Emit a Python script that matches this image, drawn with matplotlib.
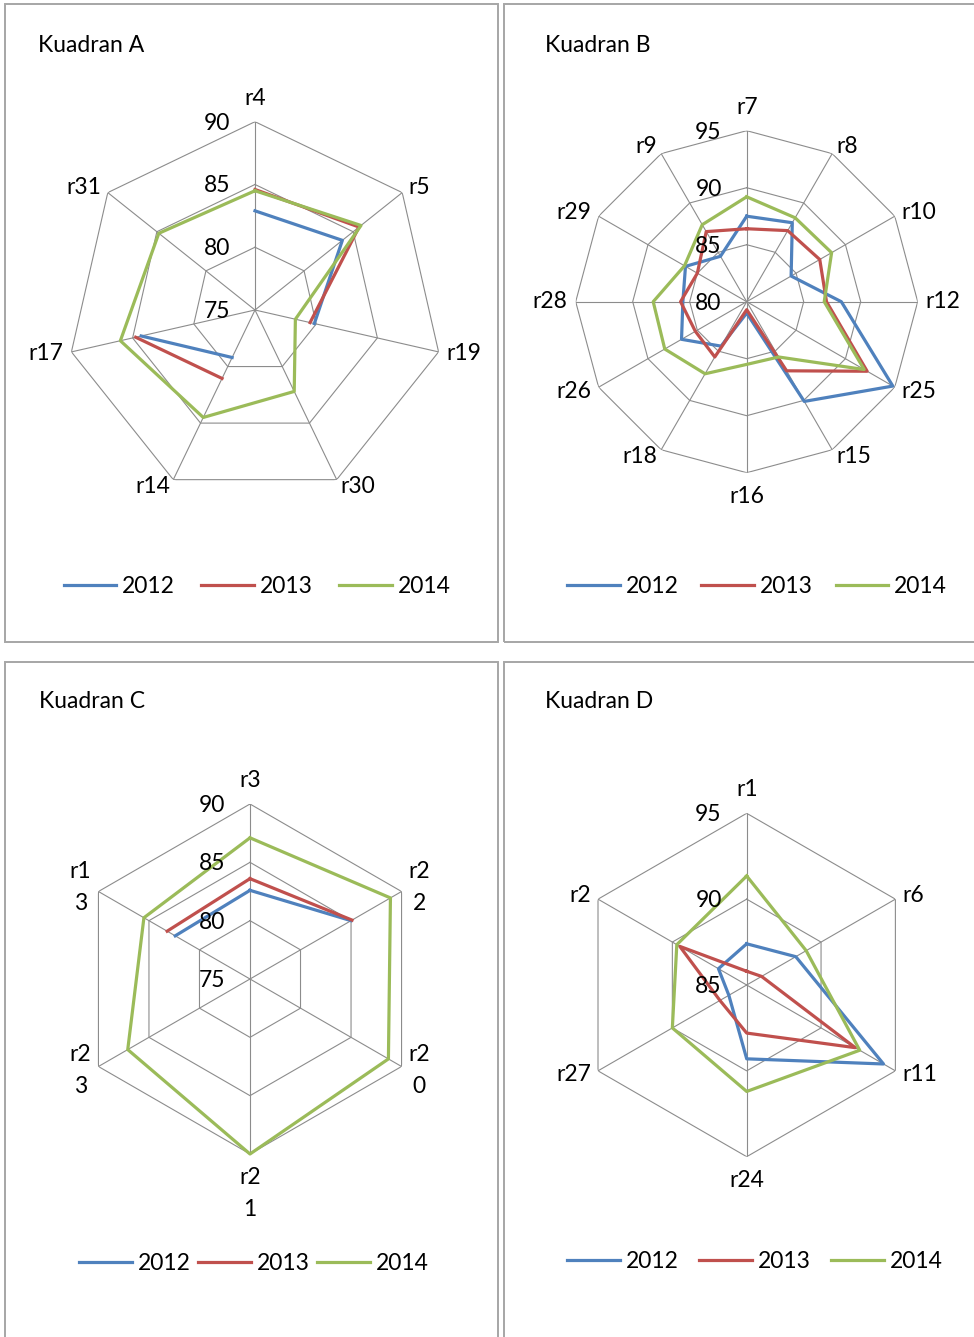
import numpy as np
import matplotlib
matplotlib.use('Agg')
import matplotlib.pyplot as plt
from matplotlib.patches import Rectangle

plt.rcParams['font.family'] = ['Lato', 'DejaVu Sans']
plt.rcParams['font.size'] = 16.5

# Kuadran A
catsA = ['r4', 'r5', 'r19', 'r30', 'r14', 'r17', 'r31']
a2012 = [82.9, 83.9, 79.85, np.nan, 79.2, 84.3, np.nan]
a2013 = [84.6, 85.6, 79.5, np.nan, 81.05, 84.75, np.nan]
a2014 = [84.5, 85.8, 78.3, 82.2, 84.5, 86.0, 84.8]
ticksA = [75, 80, 85, 90]

# Kuadran B
catsB = ['r7', 'r8', 'r10', 'r12', 'r25', 'r15', 'r16', 'r18', 'r26', 'r28', 'r29', 'r9']
b2012 = [87.5, 88.0, 84.5, 88.3, 94.8, 90.1, 81.0, 84.5, 86.6, 85.6, 86.2, 84.6]
b2013 = [86.4, 87.2, 87.4, 87.0, 92.2, 87.0, 80.7, 85.6, 85.2, 85.8, 85.0, 87.1]
b2014 = [89.2, 88.5, 88.6, 86.8, 91.9, 85.6, 85.5, 87.3, 88.3, 88.2, 86.3, 87.8]
ticksB = [80, 85, 90, 95]

# Kuadran C
catsC = ['r3', 'r22', 'r20', 'r21', 'r23', 'r13']
c2012 = [82.6, 85.0, np.nan, np.nan, np.nan, 82.4]
c2013 = [83.6, 85.1, np.nan, np.nan, np.nan, 83.2]
c2014 = [87.1, 88.9, 88.7, 90.0, 87.1, 85.5]
ticksC = [75, 80, 85, 90]

# Kuadran D
catsD = ['r1', 'r6', 'r11', 'r24', 'r27', 'r2']
d2012 = [87.4, 88.3, 94.2, 89.3, 86.2, 86.9]
d2013 = [85.8, 86.0, 92.3, 87.8, 86.8, 89.5]
d2014 = [91.35, 89.0, 92.6, 91.2, 90.0, 89.7]
ticksD = [85, 90, 95]

years = ['2012', '2013', '2014']
colors = ['#4F81BD', '#C0504D', '#9BBB59']
gridc = '#8c8c8c'

W, H = 974, 1337
fig = plt.figure(figsize=(W / 100, H / 100), dpi=100)


def radar(title, cats, series, ticks, centre, radius, title_xy, legend_xy,
          colspace, wrap=False):
    cx, cy = centre
    ax = fig.add_axes([(cx - radius) / W, (H - cy - radius) / H,
                       2 * radius / W, 2 * radius / H], projection='polar')
    ax.set_theta_zero_location('N')
    ax.set_theta_direction(-1)
    ax.set_ylim(ticks[0], ticks[-1])
    ax.set_xticks([])
    ax.set_yticks([])
    ax.grid(False)
    ax.spines['polar'].set_visible(False)
    ax.patch.set_visible(False)

    n = len(cats)
    ang = np.arange(n) * 2 * np.pi / n
    ang_c = np.append(ang, ang[0])

    # polygon rings and spokes
    for v in ticks[1:]:
        ax.plot(ang_c, [v] * (n + 1), color=gridc, lw=0.8, zorder=1)
    for a in ang:
        ax.plot([a, a], [ticks[0], ticks[-1]], color=gridc, lw=0.8, zorder=1)

    lines = []
    for vals, col, yr in zip(series, colors, years):
        v = np.append(vals, vals[0])
        ln, = ax.plot(ang_c, v, color=col, lw=2.3, label=yr, zorder=3,
                      clip_on=False)
        lines.append(ln)

    # category labels just outside the outer ring
    for a, lab in zip(ang, cats):
        s, c = np.sin(a), np.cos(a)
        if wrap and len(lab) > 2:
            lab = lab[:2] + '\n' + lab[2:]
        if abs(s) < 0.05:
            d = 9.5
            ha = 'center'
            va = 'bottom' if c > 0 else 'top'
        else:
            d = 5.8
            ha = 'left' if s > 0 else 'right'
            va = 'center'
        ax.annotate(lab, xy=(a, ticks[-1]), xytext=(d * s, d * c),
                    textcoords='offset points', ha=ha, va=va,
                    multialignment='center', linespacing=1.65,
                    annotation_clip=False)

    # value labels beside the top spoke
    for v in ticks:
        ax.annotate(str(v), xy=(0, v), xytext=(-18, -1),
                    textcoords='offset points', ha='right', va='center',
                    annotation_clip=False, zorder=4)

    fig.text(title_xy[0] / W, 1 - title_xy[1] / H, title,
             ha='left', va='center')
    ax.legend(lines, years, loc='center',
              bbox_to_anchor=(legend_xy[0] / W, 1 - legend_xy[1] / H),
              bbox_transform=fig.transFigure, ncol=3, frameon=False,
              handlelength=2.3, handletextpad=0.25, columnspacing=colspace,
              borderpad=0, borderaxespad=0)


radar('Kuadran A', catsA, [a2012, a2013, a2014], ticksA, (255, 310), 188.3,
      (38, 45), (257, 587), 1.15)
radar('Kuadran B', catsB, [b2012, b2013, b2014], ticksB, (746.7, 301.7), 171,
      (545, 45), (757, 587), 1.0)
radar('Kuadran C', catsC, [c2012, c2013, c2014], ticksC, (250, 979), 175,
      (39, 702), (254, 1264), 0.33, wrap=True)
radar('Kuadran D', catsD, [d2012, d2013, d2014], ticksD, (746.7, 985), 171.7,
      (545, 702), (755, 1262), 0.9)

# panel frames
for x0, y0, x1, y1 in [(5, 4, 498, 642), (504, 4, 990, 642),
                       (5, 662, 498, 1350), (504, 662, 990, 1350)]:
    fig.add_artist(Rectangle((x0 / W, 1 - y1 / H), (x1 - x0) / W,
                             (y1 - y0) / H, transform=fig.transFigure,
                             fill=False, ec='#a6a6a6', lw=1.4))

fig.savefig('out.png', dpi=100)
